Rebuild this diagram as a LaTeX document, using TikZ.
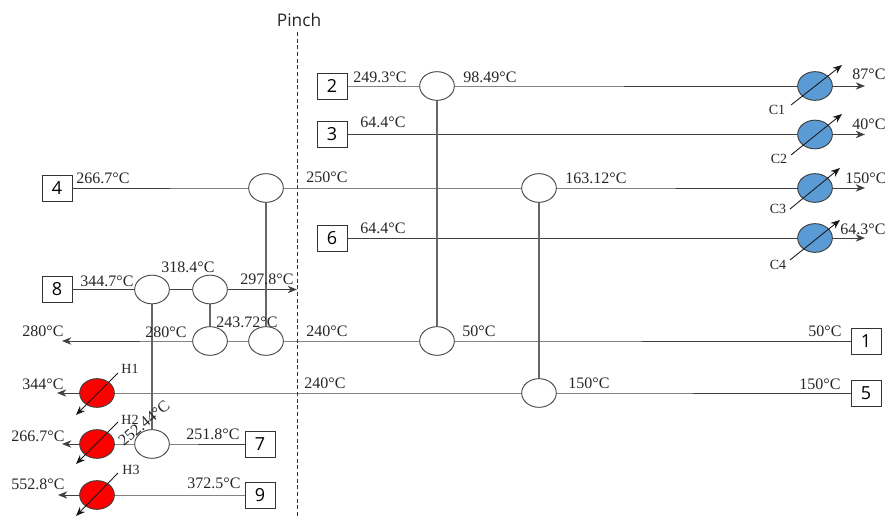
\documentclass[tikz,border=0pt]{standalone}
\usepackage{fontspec}
\setmainfont{Liberation Serif}
\newfontfamily\pinchfont{Open Sans}
\usetikzlibrary{shapes.geometric,arrows.meta}
\tikzset{
  x=0.75pt,y=-0.75pt,
  boxn/.style={draw=black!80,line width=0.7pt,fill=white,minimum width=22.5pt,minimum height=19.5pt,inner sep=0pt,font=\fontsize{13.5}{15}\pinchfont},
  ex/.style={ellipse,draw=black!70,line width=0.7pt,fill=white,minimum width=26pt,minimum height=21.5pt,inner sep=0pt},
  cool/.style={ex,fill=cblue,draw=black!75},
  heat/.style={ex,fill=red,draw=black!75},
  strm/.style={draw=black!75,line width=0.65pt},
  tie/.style={draw=black!60,line width=0.8pt},
  arr/.style={-{Stealth[length=7pt,width=5.5pt]}},
  diag/.style={draw=black!90,line width=0.65pt,-{Stealth[length=7pt,width=5.5pt]}},
  lab/.style={inner sep=0pt,font=\fontsize{12}{14}\selectfont,text=black!85},
  tag/.style={inner sep=0pt,font=\fontsize{10.5}{12}\selectfont,text=black!85},
}
\definecolor{cblue}{HTML}{5B9BD5}
\begin{document}
\begin{tikzpicture}
\useasboundingbox (0,0) rectangle (885,517);
% boxes
\node[boxn] (b2) at (332,86) {2};
\node[boxn] (b3) at (332,134.5) {3};
\node[boxn] (b4) at (57,188) {4};
\node[boxn] (b6) at (332,238) {6};
\node[boxn] (b8) at (57,289.5) {8};
\node[boxn] (b1) at (866,341) {1};
\node[boxn] (b5) at (866,393) {5};
\node[boxn] (b7) at (260,444) {7};
\node[boxn] (b9) at (260,495) {9};
% coordinates
\coordinate (pt) at (297,32);
\coordinate (pb) at (297,517);
\coordinate (e8) at (297,289.5);
\coordinate (e1) at (62,341);
\coordinate (e5) at (57,393);
\coordinate (e7) at (62,444);
\coordinate (e9) at (58,495);
\coordinate (ec1) at (865,86);
\coordinate (ec2) at (865,134.5);
\coordinate (ec3) at (865,188);
\coordinate (ec4) at (865,238);
\coordinate (c1a) at (791,105); \coordinate (c1b) at (842,65);
\coordinate (c2a) at (791,155); \coordinate (c2b) at (842,114);
\coordinate (c3a) at (790,209); \coordinate (c3b) at (840,168);
\coordinate (c4a) at (790,260); \coordinate (c4b) at (840,220);
\coordinate (h1a) at (118,373); \coordinate (h1b) at (76,415);
\coordinate (h2a) at (118,422); \coordinate (h2b) at (76,464);
\coordinate (h3a) at (118,473); \coordinate (h3b) at (76,516);
% exchanger centres
\coordinate (xa) at (437,86);
\coordinate (xb) at (266,188);
\coordinate (xc) at (539,188);
\coordinate (xd) at (152,289.5);
\coordinate (xe) at (210,289.5);
\coordinate (xf) at (210,341);
\coordinate (xg) at (266,341);
\coordinate (xh) at (437,341);
\coordinate (xi) at (539,393);
\coordinate (xj) at (152,444);
\coordinate (c1) at (815,86);
\coordinate (c2) at (815,134.5);
\coordinate (c3) at (815,188);
\coordinate (c4) at (815,238);
\coordinate (h1) at (97,393);
\coordinate (h2) at (97,444);
\coordinate (h3) at (97,495);
% connectors
\draw[strm] (b2.east) -- (xa) -- (c1) ; \draw[strm,arr] (c1) -- (ec1);
\draw[strm] (b3.east) -- (c2); \draw[strm,arr] (c2) -- (ec2);
\draw[strm] (b4.east) -- (xb) -- (xc) -- (c3); \draw[strm,arr] (c3) -- (ec3);
\draw[strm] (b6.east) -- (c4); \draw[strm,arr] (c4) -- (ec4);
\draw[strm,arr] (b8.east) -- (xd) -- (xe) -- (e8);
\draw[strm,arr] (b1.west) -- (xh) -- (xg) -- (xf) -- (e1);
\draw[strm,arr] (b5.west) -- (xi) -- (h1) -- (e5);
\draw[strm,arr] (b7.west) -- (xj) -- (h2) -- (e7);
\draw[strm,arr] (b9.west) -- (h3) -- (e9);
\draw[tie] (xa) -- (xh);
\draw[tie] (xb) -- (xg);
\draw[tie] (xc) -- (xi);
\draw[tie] (xd) -- (xj);
\draw[tie] (xe) -- (xf);
% pinch
\draw[black!80,line width=0.5pt,dash pattern=on 3pt off 2pt] (pt) -- (pb);
\node[inner sep=0pt,font=\fontsize{13}{15}\pinchfont,text=black!85] (pinch) at (299,20) {Pinch};
% exchanger shapes
\foreach \n in {xa,xb,xc,xd,xe,xf,xg,xh,xi,xj} \node[ex] (n\n) at (\n) {};
\foreach \n in {c1,c2,c3,c4} \node[cool] (n\n) at (\n) {};
\foreach \n in {h1,h2,h3} \node[heat] (n\n) at (\n) {};
% diagonals
\foreach \a/\b in {c1a/c1b,c2a/c2b,c3a/c3b,c4a/c4b,h1a/h1b,h2a/h2b,h3a/h3b} \draw[diag] (\a) -- (\b);
% labels
\node[lab] (t1) at (380,77) {249.3°C};
\node[lab] (t2) at (490,77) {98.49°C};
\node[lab] (t3) at (383,122) {64.4°C};
\node[lab] (t4) at (103,178) {266.7°C};
\node[lab] (t5) at (327,177) {250°C};
\node[lab] (t6) at (596,178) {163.12°C};
\node[lab] (t7) at (383,228) {64.4°C};
\node[lab] (t8) at (107,281) {344.7°C};
\node[lab] (t9) at (188,267) {318.4°C};
\node[lab] (t10) at (267,279) {297.8°C};
\node[lab] (t11) at (247,322) {243.72°C};
\node[lab] (t12) at (166,332) {280°C};
\node[lab] (t13) at (43,331) {280°C};
\node[lab] (t14) at (327,331) {240°C};
\node[lab] (t15) at (479,331) {50°C};
\node[lab] (t16) at (825,331) {50°C};
\node[lab] (t17) at (43,384) {344°C};
\node[lab] (t18) at (325,383) {240°C};
\node[lab] (t19) at (589,383) {150°C};
\node[lab] (t20) at (820,384) {150°C};
\node[lab] (t21) at (38,436) {266.7°C};
\node[lab] (t22) at (213,434) {251.8°C};
\node[lab] (t23) at (38,484) {552.8°C};
\node[lab] (t24) at (214,483) {372.5°C};
\node[lab,rotate=40] (t25) at (144,423) {252.44°C};
\node[lab] (t26) at (869,74) {87°C};
\node[lab] (t27) at (869,124) {40°C};
\node[lab] (t28) at (866,178) {150°C};
\node[lab] (t29) at (863,229) {64.3°C};
\node[tag] (l1) at (777,110) {C1};
\node[tag] (l2) at (779,159) {C2};
\node[tag] (l3) at (778,209) {C3};
\node[tag] (l4) at (778,265) {C4};
\node[tag] (l5) at (130,369) {H1};
\node[tag] (l6) at (130,420) {H2};
\node[tag] (l7) at (131,470) {H3};
\end{tikzpicture}
\end{document}
